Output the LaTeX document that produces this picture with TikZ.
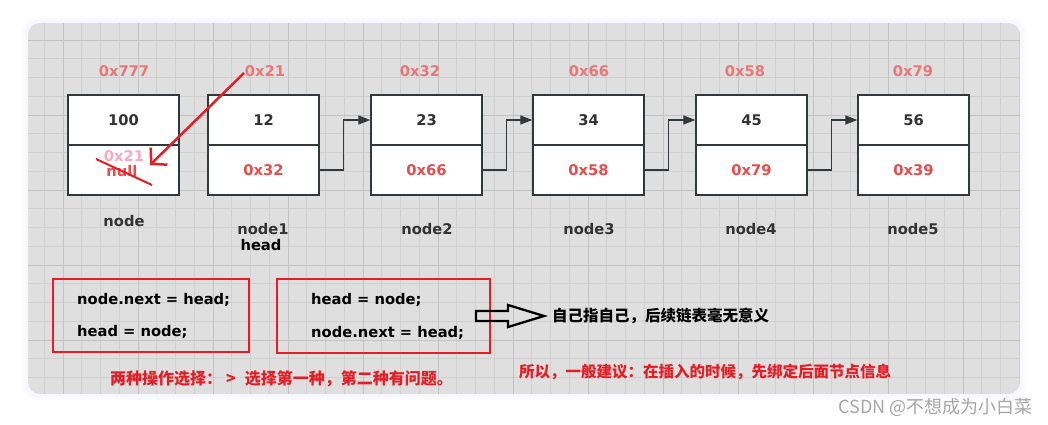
\documentclass[tikz,border=0pt]{standalone}
\usepackage{fontspec}
\setmainfont{Noto Sans CJK SC}
\newfontfamily\lat{DejaVu Sans}
\usetikzlibrary{arrows.meta}
\definecolor{panel}{RGB}{223,223,223}
\definecolor{gminor}{RGB}{208,208,208}
\definecolor{gmajor}{RGB}{194,194,194}
\definecolor{boxline}{RGB}{51,56,60}
\definecolor{addr}{RGB}{234,118,118}
\definecolor{val}{RGB}{232,76,76}
\definecolor{redline}{RGB}{232,28,36}
\definecolor{pinktxt}{RGB}{250,168,196}
\definecolor{txt}{RGB}{51,51,51}
\tikzset{
  cell/.style={draw=boxline, line width=1.4pt, fill=white, minimum width=111pt, minimum height=50pt, inner sep=0pt},
  latf/.style={font=\lat\fontsize{14.7}{18}\selectfont\bfseries},
  numtxt/.style={latf, text=txt},
  valtxt/.style={latf, text=val},
  addrtxt/.style={latf, text=addr},
  lbl/.style={latf, text=txt},
  code/.style={latf, text=black, anchor=west, inner sep=0pt},
  link/.style={draw=boxline, line width=1.3pt, -{Triangle[length=12pt,width=9pt]}},
  redbox/.style={draw=redline, line width=2pt},
  cjk/.style={font=\fontsize{15.5}{18}\selectfont\bfseries, anchor=west, inner sep=0pt},
}
\begin{document}
\begin{tikzpicture}[x=1pt,y=-1pt]
\useasboundingbox (0,0) rectangle (1048,425);
\fill[white] (0,0) rectangle (1048,425);
% panel glow
\fill[blue!2, rounded corners=16pt] (22,17) rectangle (1026,400);
\fill[blue!3, rounded corners=14pt] (25,20) rectangle (1023,397);
\begin{scope}
\clip[rounded corners=12pt] (28,23) rectangle (1020,394);
\fill[panel] (28,23) rectangle (1020,394);
\foreach \i in {-2,...,53} {
  \draw[gminor, line width=0.8pt] ({63+18.75*\i},23) -- ({63+18.75*\i},394);
}
\foreach \i in {-1,...,19} {
  \draw[gminor, line width=0.8pt] (28,{40+18.75*\i}) -- (1020,{40+18.75*\i});
}
\foreach \i in {-1,...,13} {
  \draw[gmajor, line width=0.9pt] ({63+75*\i},23) -- ({63+75*\i},394);
}
\foreach \i in {0,...,4} {
  \draw[gmajor, line width=0.9pt] (28,{40+75*\i}) -- (1020,{40+75*\i});
}
\end{scope}

% list nodes
\foreach \n/\x/\v/\p/\a/\ax in {0/123.5/100//0x777/124, 1/263.5/12/0x32/0x21/265, 2/426.5/23/0x66/0x32/420, 3/588.5/34/0x58/0x66/589, 4/751.5/45/0x79/0x58/745, 5/913.5/56/0x39/0x79/913} {
  \node[cell] (t\n) at (\x,120) {};
  \node[cell] (b\n) at (\x,170) {};
  \node[numtxt] (v\n) at (\x,120) {\v};
  \node[valtxt] (p\n) at (\x,170) {\p};
  \node[addrtxt] (a\n) at (\ax,71) {\a};
}
\node[lbl] (l0) at (124,221) {node};
\node[lbl] (l1) at (263,229) {node1};
\node[latf, text=black] (hd) at (261,245) {head};
\node[lbl] (l2) at (427,229) {node2};
\node[lbl] (l3) at (589,229) {node3};
\node[lbl] (l4) at (751,229) {node4};
\node[lbl] (l5) at (913,229) {node5};

% links
\foreach \a/\b in {1/2,2/3,3/4,4/5} {
  \draw[link] (b\a.east) -- ++(24,0) |- (t\b.west);
}

% first node's changed pointer
\node[latf, text=val] (nul) at (122,171) {null};
\node[latf, text=pinktxt] (p21) at (124,156) {0x21};
\coordinate (s1) at (96,159);
\coordinate (s2) at (152,185);
\draw[redline, line width=2pt] (s1) -- (s2);
\coordinate (rs) at (244,73);
\coordinate (re) at (150,165);
\draw[redline, line width=2.5pt, -{Straight Barb[length=11pt,width=24pt]}] (rs) -- (re);

% code boxes
\draw[redbox] (53,279) rectangle (249,352);
\draw[redbox] (277,279) rectangle (490,353);
\node[code] (c1) at (77,300) {node.next = head;};
\node[code] (c2) at (77,332) {head = node;};
\node[code] (c3) at (311,300) {head = node;};
\node[code] (c4) at (311,333) {node.next = head;};

% hollow arrow
\draw[black, line width=2.3pt, line join=miter]
  (476,311) -- (508,311) -- (508,305) -- (544,316) -- (508,327) -- (508,321) -- (476,321) -- cycle;
\node[cjk, text=black] (n1) at (552,316) {自己指自己，后续链表毫无意义};

\node[cjk, text=redline, font=\fontsize{16}{18}\selectfont\bfseries] (n2) at (110,379) {两种操作选择：\hspace{4pt}>\hspace{9pt}选择第一种，第二种有问题。};
\node[cjk, text=redline] (n3) at (519,372) {所以，一般建议：在插入的时候，先绑定后面节点信息};

\node[font=\fontsize{18}{20}\selectfont, text=gray!70, anchor=east, inner sep=0pt] (wm) at (1033,407) {CSDN @不想成为小白菜};
\end{tikzpicture}
\end{document}
